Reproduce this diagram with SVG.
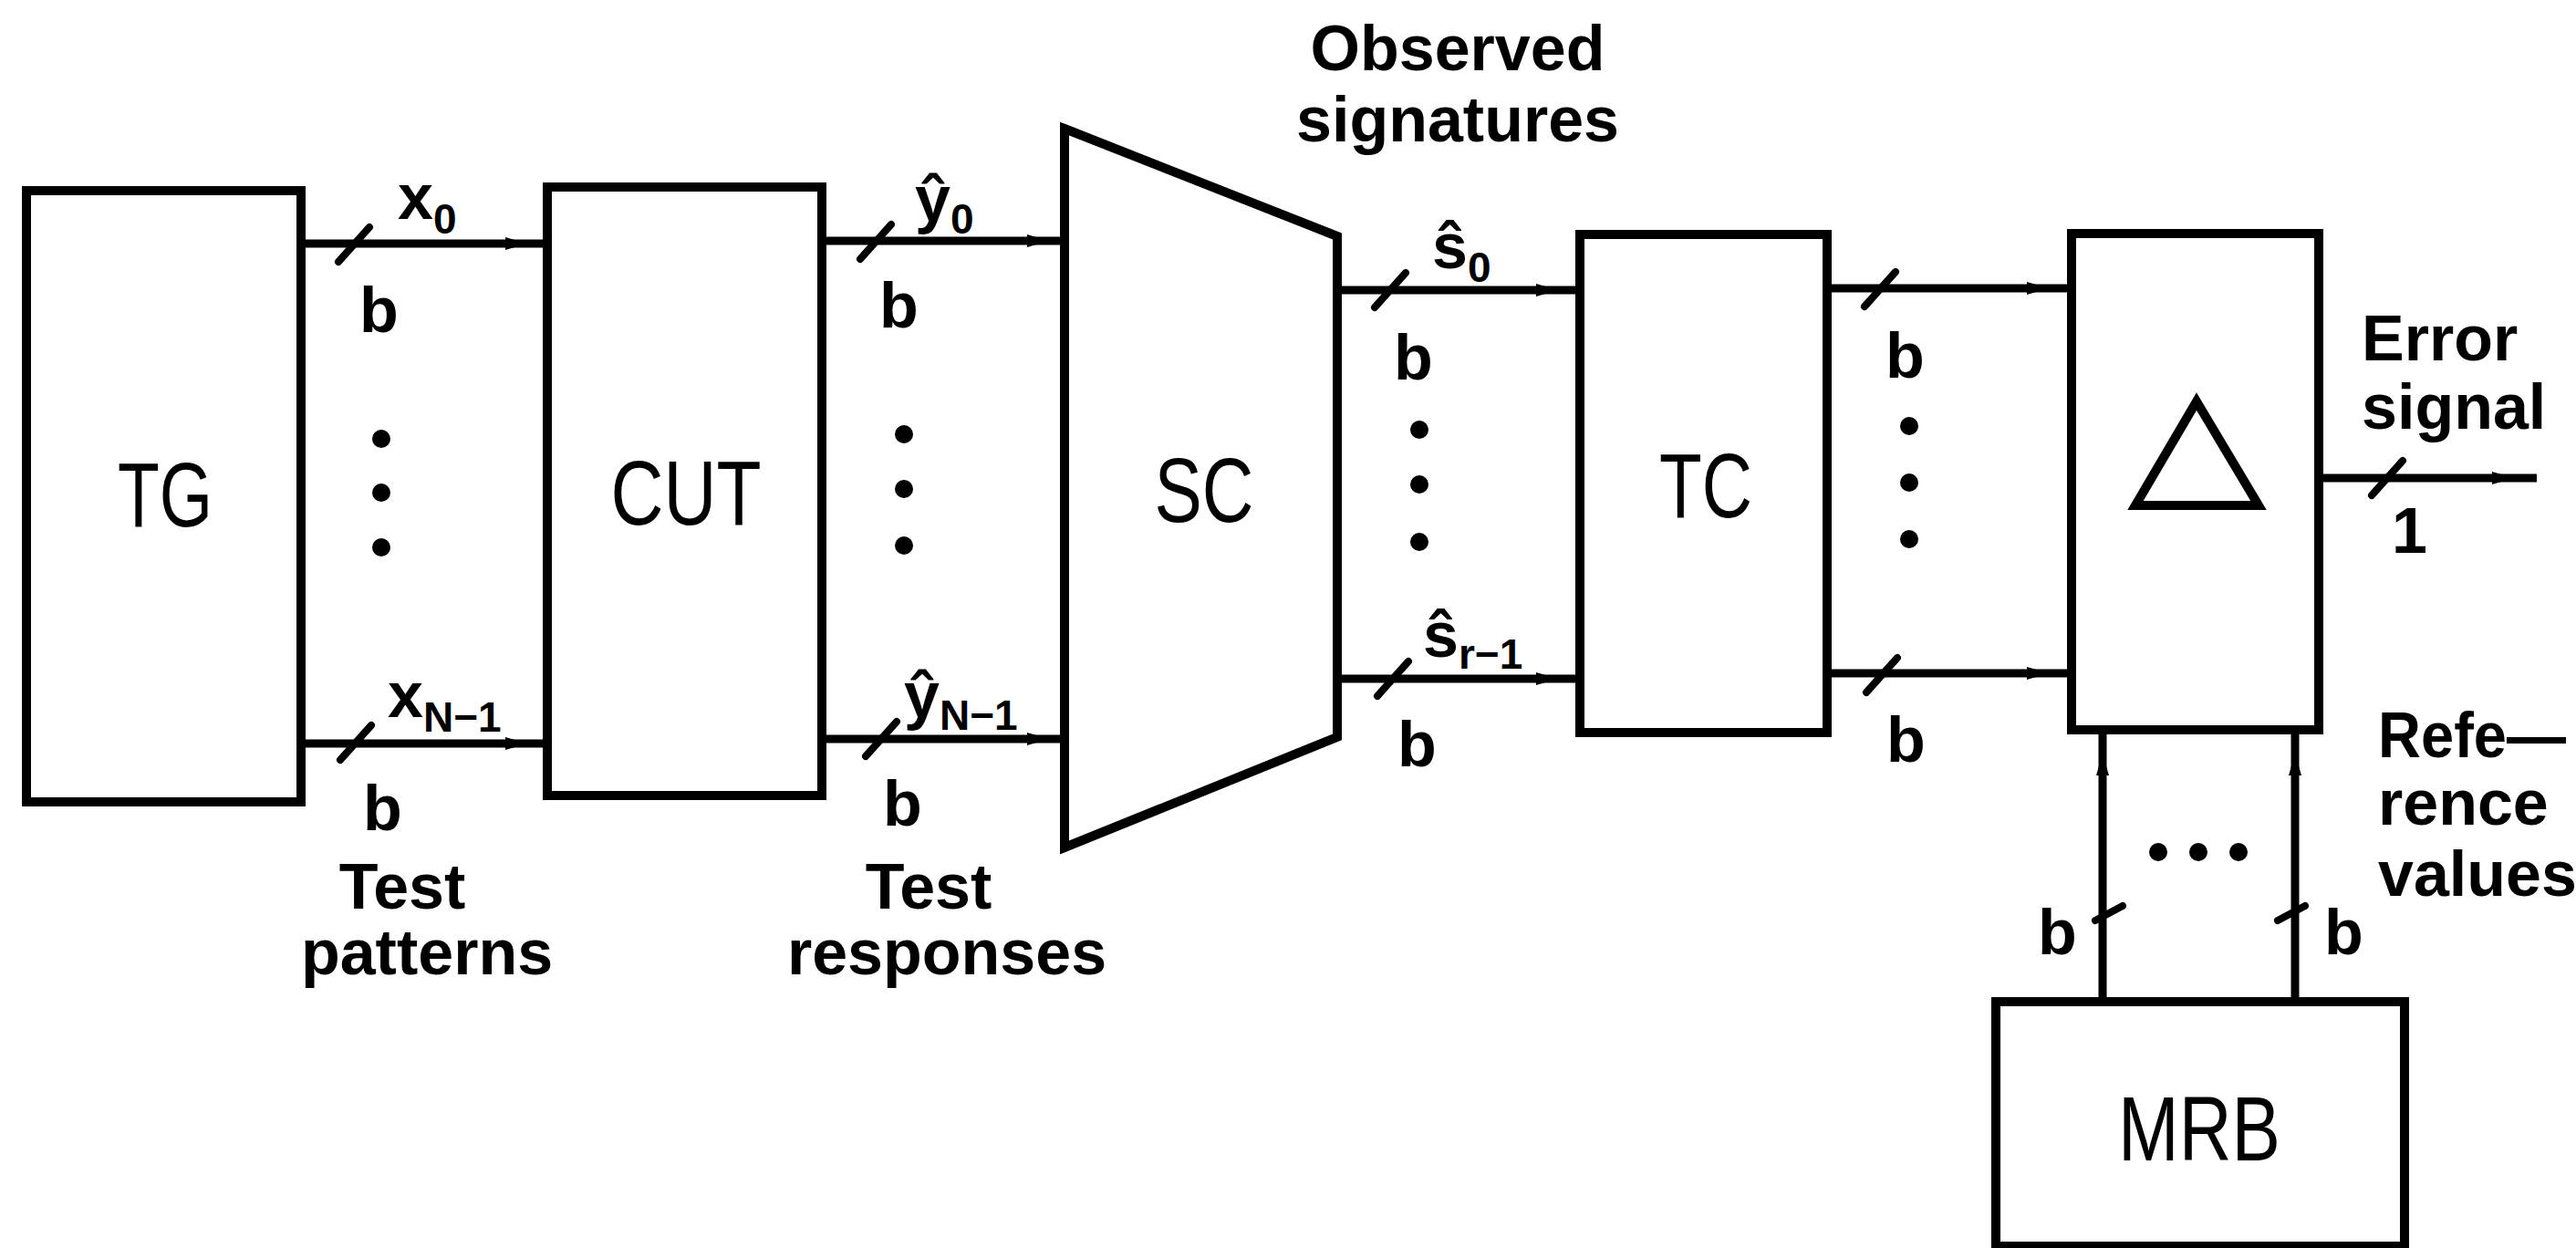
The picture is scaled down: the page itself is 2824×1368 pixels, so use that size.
<svg xmlns="http://www.w3.org/2000/svg" xmlns:xlink="http://www.w3.org/1999/xlink" width="2824" height="1368" viewBox="0 0 2824 1368">
<style>
.box{fill:none;stroke:#000;stroke-width:10;stroke-linejoin:miter}
.con{fill:none;stroke:#000;stroke-width:9}
.tk{fill:none;stroke:#000;stroke-width:8;stroke-linecap:round}
.big{font-family:"Liberation Sans",Arial,sans-serif;font-size:100px;fill:#000}
.lbl{font-family:"Liberation Sans",Arial,sans-serif;font-size:70px;font-weight:bold;fill:#000}
.sub{font-size:46px}
.dot{fill:#000}
</style>
<defs>
<marker id="ah" viewBox="0 0 24 16" refX="24" refY="8" markerWidth="24" markerHeight="16" markerUnits="userSpaceOnUse" orient="auto">
<path d="M0,1 L24,8 L0,15 z" fill="#000"/>
</marker>
<path id="tick" d="M-17,19 L17,-19"/>
<path id="vtick" d="M-15,8 L15,-8"/>
</defs>
<rect width="2824" height="1368" fill="#fff"/>

<g id="TG"><rect class="box" x="29" y="209" width="301" height="670"/><text class="big" x="181" y="577" text-anchor="middle" textLength="104" lengthAdjust="spacingAndGlyphs">TG</text></g>
<g id="CUT"><rect class="box" x="600" y="205" width="301" height="667"/><text class="big" x="752" y="575" text-anchor="middle" textLength="165" lengthAdjust="spacingAndGlyphs">CUT</text></g>
<g id="SC"><polygon class="box" points="1167,141 1466,259 1466,808 1167,929"/><text class="big" x="1320" y="572" text-anchor="middle" textLength="109" lengthAdjust="spacingAndGlyphs">SC</text></g>
<g id="TC"><rect class="box" x="1732" y="257" width="271" height="546"/><text class="big" x="1870" y="567" text-anchor="middle" textLength="102" lengthAdjust="spacingAndGlyphs">TC</text></g>
<g id="CMP"><rect class="box" x="2271" y="256" width="271" height="544"/><polygon class="box" points="2408,440 2476,554 2341,554"/></g>
<g id="MRB"><rect class="box" x="2188" y="1098" width="448" height="268"/><text class="big" x="2411" y="1272" text-anchor="middle" textLength="178" lengthAdjust="spacingAndGlyphs">MRB</text></g>

<g id="connectors">
<path class="con" marker-mid="url(#ah)" d="M330,267 L578,267 L600,267"/>
<path class="con" marker-mid="url(#ah)" d="M330,815 L578,815 L600,815"/>
<path class="con" marker-mid="url(#ah)" d="M901,264 L1150,264 L1167,264"/>
<path class="con" marker-mid="url(#ah)" d="M901,810 L1150,810 L1167,810"/>
<path class="con" marker-mid="url(#ah)" d="M1466,318 L1708,318 L1732,318"/>
<path class="con" marker-mid="url(#ah)" d="M1466,744 L1708,744 L1732,744"/>
<path class="con" marker-mid="url(#ah)" d="M2003,316 L2246,316 L2271,316"/>
<path class="con" marker-mid="url(#ah)" d="M2003,738 L2246,738 L2271,738"/>
<path class="con" marker-mid="url(#ah)" d="M2542,524 L2756,524 L2781,524"/>
<path class="con" marker-mid="url(#ah)" d="M2305,1098 L2305,826 L2305,800"/>
<path class="con" marker-mid="url(#ah)" d="M2516,1098 L2516,826 L2516,800"/>
<g class="tk">
<use xlink:href="#tick" x="388" y="268"/>
<use xlink:href="#tick" x="390" y="814"/>
<use xlink:href="#tick" x="960" y="265"/>
<use xlink:href="#tick" x="966" y="810"/>
<use xlink:href="#tick" x="1524" y="318"/>
<use xlink:href="#tick" x="1527" y="744"/>
<use xlink:href="#tick" x="2061" y="317"/>
<use xlink:href="#tick" x="2063" y="740"/>
<use xlink:href="#tick" x="2617" y="524"/>
<use xlink:href="#vtick" x="2312" y="1001"/>
<use xlink:href="#vtick" x="2512" y="1001"/>
</g>
</g>

<g id="labels">
<text class="lbl" x="436" y="240">x<tspan class="sub" dy="16">0</tspan></text>
<text class="lbl" x="425" y="786">x<tspan class="sub" dy="16">N−1</tspan></text>
<text class="lbl" x="1003" y="242">ŷ<tspan class="sub" dy="14">0</tspan></text>
<text class="lbl" x="991" y="786">ŷ<tspan class="sub" dy="14">N−1</tspan></text>
<text class="lbl" x="1570" y="294">ŝ<tspan class="sub" dy="15">0</tspan></text>
<text class="lbl" x="1560" y="720">ŝ<tspan class="sub" dy="13">r−1</tspan></text>
<text class="lbl" x="394" y="364">b</text>
<text class="lbl" x="398" y="910">b</text>
<text class="lbl" x="964" y="359">b</text>
<text class="lbl" x="968" y="905">b</text>
<text class="lbl" x="1528" y="416">b</text>
<text class="lbl" x="1532" y="840">b</text>
<text class="lbl" x="2067" y="414">b</text>
<text class="lbl" x="2068" y="835">b</text>
<text class="lbl" x="2234" y="1046">b</text>
<text class="lbl" x="2548" y="1046">b</text>
<text class="lbl" x="2622" y="606">1</text>
<text class="lbl" x="441" y="996" text-anchor="middle">Test</text>
<text class="lbl" x="468" y="1068" text-anchor="middle">patterns</text>
<text class="lbl" x="1018" y="996" text-anchor="middle">Test</text>
<text class="lbl" x="1038" y="1068" text-anchor="middle">responses</text>
<text class="lbl" x="1598" y="77" text-anchor="middle">Observed</text>
<text class="lbl" x="1598" y="155" text-anchor="middle">signatures</text>
<text class="lbl" x="2589" y="395">Error</text>
<text class="lbl" x="2589" y="470">signal</text>
<text class="lbl" x="2607" y="830" textLength="206" lengthAdjust="spacingAndGlyphs">Refe—</text>
<text class="lbl" x="2607" y="904">rence</text>
<text class="lbl" x="2607" y="982">values</text>
<circle class="dot" cx="418" cy="481" r="10"/>
<circle class="dot" cx="418" cy="540" r="10"/>
<circle class="dot" cx="418" cy="600" r="10"/>
<circle class="dot" cx="991" cy="476" r="10"/>
<circle class="dot" cx="991" cy="536" r="10"/>
<circle class="dot" cx="991" cy="598" r="10"/>
<circle class="dot" cx="1556" cy="471" r="10"/>
<circle class="dot" cx="1556" cy="531" r="10"/>
<circle class="dot" cx="1556" cy="594" r="10"/>
<circle class="dot" cx="2093" cy="467" r="10"/>
<circle class="dot" cx="2093" cy="529" r="10"/>
<circle class="dot" cx="2093" cy="591" r="10"/>
<circle class="dot" cx="2366" cy="934" r="10"/>
<circle class="dot" cx="2410" cy="934" r="10"/>
<circle class="dot" cx="2454" cy="934" r="10"/>
</g>
</svg>
